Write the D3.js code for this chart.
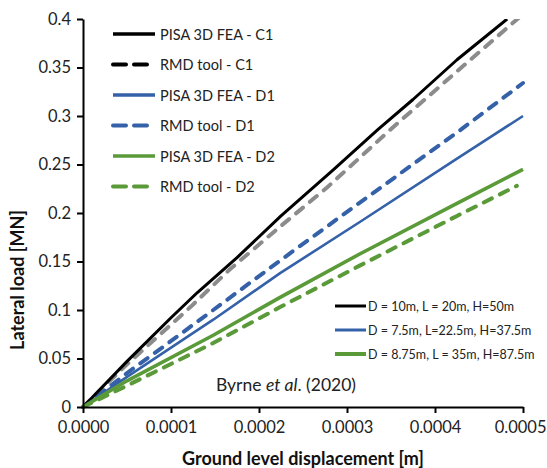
<!DOCTYPE html>
<html><head><meta charset="utf-8">
<script src="https://cdnjs.cloudflare.com/ajax/libs/d3/7.8.5/d3.min.js"></script>
<style>
body{margin:0;background:#fff;}
svg{display:block;font-family:Lato,"Open Sans",sans-serif;}
</style></head>
<body><svg id="c" width="547" height="468"></svg>
<script>
// ---- data ----
const xTicks = [0, 0.0001, 0.0002, 0.0003, 0.0004, 0.0005];
const yTicks = [0, 0.05, 0.1, 0.15, 0.2, 0.25, 0.3, 0.35, 0.4];

const c1FeaX = [0, 0.00005, 0.0001, 0.00013, 0.000175, 0.000225, 0.000285, 0.000335, 0.000375, 0.000425, 0.000482];
const c1FeaY = [0, 0.047, 0.092, 0.118, 0.154, 0.197, 0.245, 0.286, 0.317, 0.358, 0.400];
const c1RmdX = [0, 0.00005, 0.000122, 0.000167, 0.000224, 0.000277, 0.000353, 0.000425, 0.0005];
const c1RmdY = [0, 0.044, 0.103, 0.142, 0.186, 0.226, 0.289, 0.346, 0.405];
const d1FeaX = [0, 0.00005, 0.000148, 0.000224, 0.000315, 0.000425, 0.0005];
const d1FeaY = [0, 0.031, 0.090, 0.138, 0.191, 0.256, 0.300];
const d1RmdX = [0, 0.00005, 0.000091, 0.000148, 0.000224, 0.000315, 0.000425, 0.0005];
const d1RmdY = [0, 0.035, 0.062, 0.100, 0.151, 0.211, 0.283, 0.334];
const d2FeaX = [0, 0.00005, 0.000148, 0.000224, 0.000315, 0.000425, 0.0005];
const d2FeaY = [0, 0.027, 0.074, 0.113, 0.158, 0.210, 0.245];
const d2RmdX = [0, 0.00005, 0.000148, 0.000224, 0.000315, 0.000425, 0.000493];
const d2RmdY = [0, 0.022, 0.066, 0.103, 0.146, 0.197, 0.228];

const legendNames = ["PISA 3D FEA - C1", "RMD tool - C1", "PISA 3D FEA - D1", "RMD tool - D1", "PISA 3D FEA - D2", "RMD tool - D2"];
const caseNames = ["D = 10m, L = 20m, H=50m", "D = 7.5m, L=22.5m, H=37.5m", "D = 8.75m, L = 35m, H=87.5m"];

const BLACK = "#000000", GREY = "#8c8c8c", BLUE = "#3461a8", GREEN = "#5a9a38";

const series = [
  {x: c1RmdX, y: c1RmdY, color: GREY, dash: true, w: 4},
  {x: d1RmdX, y: d1RmdY, color: BLUE, dash: true, w: 4},
  {x: d2RmdX, y: d2RmdY, color: GREEN, dash: true, w: 4},
  {x: c1FeaX, y: c1FeaY, color: BLACK, dash: false, w: 3},
  {x: d1FeaX, y: d1FeaY, color: BLUE, dash: false, w: 2.6},
  {x: d2FeaX, y: d2FeaY, color: GREEN, dash: false, w: 3.6}
];
const legendStyles = [
  {color: BLACK, dash: false, w: 3.5}, {color: BLACK, dash: true, w: 4},
  {color: BLUE, dash: false, w: 3.5}, {color: BLUE, dash: true, w: 4},
  {color: GREEN, dash: false, w: 3.5}, {color: GREEN, dash: true, w: 4}
];
const caseColors = [BLACK, BLUE, GREEN];

// ---- layout ----
const L = 83, R = 523, T = 19, B = 407;
const x = d3.scaleLinear().domain([0, 0.0005]).range([L, R]);
const y = d3.scaleLinear().domain([0, 0.4]).range([B, T]);
const svg = d3.select("#c");

svg.append("defs").append("clipPath").attr("id", "plot")
  .append("rect").attr("x", L - 2).attr("y", T).attr("width", R - L + 10).attr("height", B - T + 2);

// series
const line = d3.line().x(d => x(d[0])).y(d => y(d[1]));
const g = svg.append("g").attr("clip-path", "url(#plot)");
series.forEach(s => {
  g.append("path").datum(s.x.map((v, i) => [v, s.y[i]]))
    .attr("d", line).attr("fill", "none").attr("stroke", s.color)
    .attr("stroke-width", s.w)
    .attr("stroke-dasharray", s.dash ? "9,9" : null)
    .attr("stroke-linecap", s.dash ? "round" : "butt")
    .attr("stroke-linejoin", "round");
});

// axes
const xAxis = svg.append("g").attr("transform", `translate(0,${B})`)
  .call(d3.axisBottom(x).tickValues(xTicks).tickFormat(d3.format(".4f")).tickSizeInner(6).tickSizeOuter(0).tickPadding(8));
const yAxis = svg.append("g").attr("transform", `translate(${L},0)`)
  .call(d3.axisLeft(y).tickValues(yTicks).tickFormat(d => d3.format("")(+d.toFixed(2))).tickSizeInner(6).tickSizeOuter(0).tickPadding(6));
[xAxis, yAxis].forEach(a => {
  a.select(".domain").attr("stroke", "#000").attr("stroke-width", 2);
  a.selectAll(".tick line").attr("stroke", "#000").attr("stroke-width", 2);
  a.selectAll(".tick text").attr("fill", "#222").attr("font-size", 16.5).attr("font-family", "Lato");
});
xAxis.selectAll(".tick text").filter(d => d === 0.0005).attr("text-anchor", "end").attr("x", 546 - R);

// axis titles
svg.append("text").attr("x", 303).attr("y", 465).attr("text-anchor", "middle")
  .attr("font-size", 18).attr("font-weight", "bold").attr("fill", "#111")
  .text("Ground level displacement [m]");
svg.append("text").attr("transform", "translate(24,280) rotate(-90)").attr("text-anchor", "middle")
  .attr("font-size", 18).attr("font-weight", "bold").attr("fill", "#111")
  .text("Lateral load [MN]");

// citation
const cite = svg.append("text").attr("x", 216).attr("y", 391).attr("font-size", 17.5).attr("fill", "#222");
cite.append("tspan").text("Byrne ");
cite.append("tspan").attr("font-style", "italic").text("et al");
cite.append("tspan").text(". (2020)");

// legend 1
legendNames.forEach((n, i) => {
  const yy = 34 + i * 30.5, st = legendStyles[i];
  svg.append("line").attr("x1", 113).attr("x2", 155).attr("y1", yy).attr("y2", yy)
    .attr("stroke", st.color).attr("stroke-width", st.w)
    .attr("stroke-dasharray", st.dash ? "13,8" : null)
    .attr("stroke-linecap", st.dash ? "round" : "butt");
  svg.append("text").attr("x", 160).attr("y", yy + 5.5).attr("font-size", 14.5).attr("fill", "#222").text(n);
});

// legend 2
caseNames.forEach((n, i) => {
  const yy = 306 + i * 24;
  svg.append("line").attr("x1", 335).attr("x2", 366).attr("y1", yy).attr("y2", yy)
    .attr("stroke", caseColors[i]).attr("stroke-width", i === 2 ? 4 : 3);
  svg.append("text").attr("x", 368).attr("y", yy + 4.5).attr("font-size", 12.5).attr("fill", "#222").text(n);
});
</script></body></html>
